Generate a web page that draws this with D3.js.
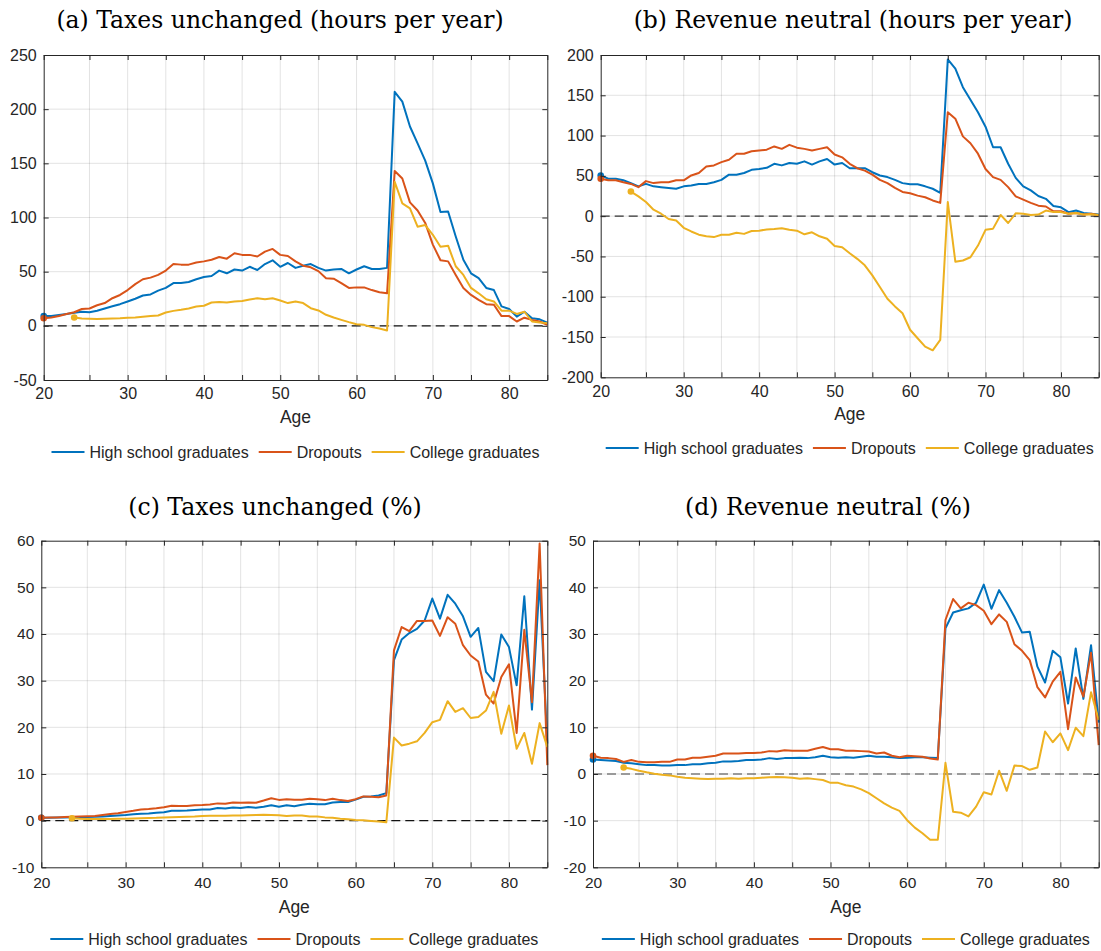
<!DOCTYPE html>
<html>
<head>
<meta charset="utf-8">
<script src="https://cdn.jsdelivr.net/npm/d3@7"></script>
<style>
  body { margin: 0; background: #fff; }
  svg text { font-family: "Liberation Sans", Arial, sans-serif; fill: #262626; }
  .title { font-family: "DejaVu Serif", "Liberation Serif", serif; fill: #000; }
</style>
</head>
<body>
<svg id="chart" width="1101" height="951"></svg>
<script>
// ages 19..85 for high school / dropouts, college series start at 23
const AGES = d3.range(19, 86)
const COLLEGE_AGES = d3.range(23, 86)
const X_TICKS = [19, 25, 30, 35, 40, 45, 50, 55, 60, 65, 70, 75, 80, 85]
const X_TICK_LABELS = ["20", "", "30", "", "40", "", "50", "", "60", "", "70", "", "80", ""]
const SERIES_NAMES = ["High school graduates", "Dropouts", "College graduates"]
const COLORS = ["#0072BD", "#D95319", "#EDB120"]

// (a) taxes unchanged, hours per year
const hsHoursTax = [9, 9, 10, 11, 12, 13, 12.5, 14, 16, 18, 20, 22.5, 25, 28, 29, 32.5, 35, 39.5, 39.5, 40.5,
  43, 45, 46, 51, 48.5, 52, 51, 54.5, 51.5, 57, 60.5, 54.5, 58, 53.5, 55.5, 57, 53.5, 51, 52, 52.5,
  48.5, 52, 55, 52.5, 52.5, 53.5, 216, 207, 184, 168.5, 152.5, 131.5, 105, 105.5, 82.5, 61, 48.5, 44, 35, 33,
  18, 15.5, 8.5, 13, 7, 6, 3]
const dropHoursTax = [7, 7.7, 9, 11, 12.5, 15.5, 16, 19, 21, 25.5, 28.5, 33, 38.5, 43, 44.5, 47, 51, 57, 56.5, 56.5,
  58.5, 59.5, 61, 63.5, 62, 67, 65.5, 65.5, 64, 68.5, 71, 65.5, 64.5, 59.5, 55.5, 54, 50.5, 44, 43.5, 39.5,
  35, 35.5, 35.5, 33, 31, 30, 143, 136, 114, 106.5, 95, 75, 60.5, 59.5, 47, 35, 28.5, 24, 20, 19.5,
  9, 9, 4, 7.5, 5.5, 4, 1]
const colHoursTax = [7.7, 6.8, 6.5, 6.2, 6.5, 6.8, 7, 7.4, 7.7, 8.3, 9, 9.5, 12.3, 13.8, 14.8, 16,
  17.8, 18.5, 21.5, 22, 21.5, 22.5, 23, 24.3, 25.5, 24.6, 25.5, 23.4, 21, 22.5, 21, 16.3, 14.2, 10.2, 7.7, 5.5,
  3.4, 1.5, 0.9, -1.2, -2.5, -4.3, 133, 113, 108.5, 91.5, 93, 84, 73, 74, 55, 47, 35, 30, 24.5, 22.5,
  14, 14, 11, 13, 4, 3, 2.5]

// (b) revenue neutral, hours per year
const hsHoursRev = [50.5, 46.5, 46.5, 44.5, 41, 37, 40, 37, 36, 35, 34, 37, 38, 40, 40, 42, 45, 51.5, 51.5, 53.5,
  57.5, 58.5, 60, 65, 63, 66, 65, 68, 64, 68, 71, 64, 66, 59.5, 59.5, 59.5, 54.5, 50.5, 48.5, 45,
  41, 39.5, 39.5, 37, 34, 29, 194.5, 183, 160, 144.5, 129, 111, 85.5, 85.5, 65, 47.5, 37, 32, 25, 21.5,
  12.5, 11, 5, 7, 4, 3, 2]
const dropHoursRev = [46.5, 44.5, 44.5, 42, 40, 36, 43.5, 41, 42, 42, 44.5, 44.5, 50.5, 53.5, 61.5, 63, 67, 70, 77.5, 77.5,
  80.5, 81.5, 82.5, 86.5, 83.5, 88.5, 85, 83.5, 81.5, 83.5, 85.5, 76.5, 73, 65, 59.5, 56.5, 51.5, 45, 41, 35,
  30, 28.5, 25.5, 23.5, 19.5, 16.5, 129, 121, 99, 90.5, 77.5, 58.5, 48.5, 45, 36, 24.5, 20.5, 16.5, 13, 12,
  6, 6, 3, 4, 2, 3, 1]
const colHoursRev = [30.5, 24.5, 17.5, 8, 3, -3.5, -5.5, -14.5, -19, -23, -25, -26, -23, -23, -20.5, -22,
  -18.5, -18, -16.5, -16, -15, -17, -18, -22.5, -20, -25, -28, -37, -38.5, -46, -53, -61, -73.5, -88, -102.5, -112,
  -120.5, -141, -151.5, -162, -166.5, -153.5, 17.5, -56.5, -55, -51, -36.5, -17, -15.5, 1.5, -8.5, 3.5, 3, 1.5, 2, 7,
  5, 5, 3, 4, 2, 2.5, 1.5]

// (c) taxes unchanged, percent
const hsPctTax = [0.6, 0.6, 0.65, 0.7, 0.75, 0.8, 0.8, 0.85, 0.9, 1, 1.1, 1.2, 1.35, 1.5, 1.55, 1.7, 1.8, 2.1, 2.1, 2.15,
  2.3, 2.4, 2.4, 2.7, 2.6, 2.8, 2.7, 2.9, 2.75, 3, 3.3, 3, 3.3, 3.1, 3.4, 3.6, 3.5, 3.5, 3.9, 4,
  4, 4.5, 5.1, 5.2, 5.4, 5.9, 34.4, 38.8, 40.2, 41.1, 42.9, 47.6, 43.3, 48.4, 46.5, 43.8, 39.4, 41.3, 31.9, 29.9,
  39.9, 37.2, 29, 48.1, 23.8, 51.5, 16.5]
const dropPctTax = [0.6, 0.65, 0.7, 0.8, 0.85, 0.9, 0.95, 1, 1.2, 1.4, 1.6, 1.85, 2.1, 2.4, 2.5, 2.65, 2.85, 3.2, 3.15, 3.15,
  3.3, 3.35, 3.45, 3.7, 3.6, 3.9, 3.85, 3.9, 3.85, 4.3, 4.8, 4.45, 4.6, 4.5, 4.5, 4.7, 4.6, 4.4, 4.7, 4.4,
  4.2, 4.6, 5.2, 5.1, 5, 5.4, 36.5, 41.5, 40.6, 42.8, 42.8, 42.9, 39.6, 43.6, 42.2, 37.6, 35.4, 34.1, 27, 25.1,
  30.8, 33.5, 18.8, 40.9, 25.4, 59.4, 11.9]
const colPctTax = [0.5, 0.4, 0.35, 0.35, 0.35, 0.35, 0.38, 0.4, 0.45, 0.5, 0.55, 0.6, 0.7, 0.75, 0.8, 0.85,
  0.9, 1, 1.05, 1.05, 1.05, 1.1, 1.1, 1.15, 1.2, 1.25, 1.2, 1.15, 1, 1.1, 1.1, 0.9, 0.9, 0.7, 0.6, 0.4,
  0.3, 0.15, 0.07, -0.07, -0.2, -0.36, 17.8, 16.1, 16.5, 17, 18.8, 21.1, 21.6, 25.6, 23.3, 24.1, 22, 22.2, 23.6, 27.6,
  18.6, 24.7, 15.4, 18.8, 12.2, 20.9, 15.8]

// (d) revenue neutral, percent
const hsPctRev = [3.1, 3, 2.9, 2.8, 2.4, 2.3, 2.1, 1.9, 1.9, 1.8, 1.8, 1.9, 1.9, 2.1, 2.1, 2.3, 2.4, 2.7, 2.7, 2.8,
  3, 3, 3.1, 3.4, 3.2, 3.4, 3.4, 3.5, 3.4, 3.6, 3.9, 3.6, 3.5, 3.6, 3.5, 3.7, 3.9, 3.7, 3.7, 3.6,
  3.4, 3.5, 3.6, 3.6, 3.5, 3.4, 31.2, 34.6, 35.1, 35.5, 36.7, 40.6, 35.4, 39.4, 36.7, 33.7, 30.3, 30.5, 23, 19.6,
  26.4, 25, 15.1, 26.9, 16.1, 27.6, 11]
const dropPctRev = [3.9, 3.5, 3.4, 3.2, 2.6, 3, 2.6, 2.5, 2.5, 2.6, 2.6, 3.1, 3.1, 3.5, 3.5, 3.7, 3.9, 4.4, 4.4, 4.4,
  4.5, 4.5, 4.6, 4.9, 4.8, 5.1, 5, 5, 5, 5.4, 5.8, 5.3, 5.3, 5, 5, 4.9, 4.8, 4.4, 4.6, 3.9,
  3.6, 3.9, 3.8, 3.7, 3.3, 3.1, 33, 37.5, 35.5, 36.7, 36.2, 35, 32.1, 34.2, 32.6, 27.8, 26.4, 24.4, 18.6, 16.4,
  19.8, 21.9, 9.6, 20.7, 16.6, 26, 6.2]
const colPctRev = [1.4, 1.1, 0.7, 0.36, 0.07, -0.14, -0.3, -0.6, -0.8, -0.9, -1, -1.1, -1, -1, -0.9, -1,
  -0.9, -0.9, -0.8, -0.7, -0.65, -0.7, -0.8, -1, -0.9, -1.1, -1.3, -1.9, -1.9, -2.4, -2.7, -3.3, -4.1, -5.2, -6.3, -7.2,
  -7.9, -9.9, -11.5, -12.7, -14.1, -14.1, 2.4, -8.1, -8.3, -9.1, -7, -3.9, -4.4, 0.7, -3.6, 1.8, 1.7, 0.9, 1.4, 9.1,
  6.8, 8.7, 5.1, 9.9, 8.1, 17.5, 11.6]

const PANELS = [
  { title: "(a) Taxes unchanged (hours per year)", titleX: 280, titleY: 28,
    l: 43.7, r: 547.3, t: 55, b: 380, yDomain: [-50, 250], yTicks: d3.range(-50, 251, 50),
    series: [hsHoursTax, dropHoursTax, colHoursTax],
    tickFs: 16, tickPad: 7.6, ageY: 423, ageFs: 17.5, legendY: 452, legendFs: 16, zero: "#111" },
  { title: "(b) Revenue neutral (hours per year)", titleX: 853, titleY: 28,
    l: 600.7, r: 1098.7, t: 55, b: 377.3, yDomain: [-200, 200], yTicks: d3.range(-200, 201, 50),
    series: [hsHoursRev, dropHoursRev, colHoursRev],
    tickFs: 16, tickPad: 8.6, ageY: 420, ageFs: 17.5, legendY: 448, legendFs: 16, zero: "#333" },
  { title: "(c) Taxes unchanged (%)", titleX: 275, titleY: 515,
    l: 41.3, r: 547.3, t: 540.7, b: 867.3, yDomain: [-10, 60], yTicks: d3.range(-10, 61, 10),
    series: [hsPctTax, dropPctTax, colPctTax],
    tickFs: 15.5, tickPad: 10, ageY: 913, ageFs: 17.5, legendY: 939, legendFs: 16, zero: "#111" },
  { title: "(d) Revenue neutral (%)", titleX: 828, titleY: 515,
    l: 593, r: 1098.7, t: 540.7, b: 867.3, yDomain: [-20, 50], yTicks: d3.range(-20, 51, 10),
    series: [hsPctRev, dropPctRev, colPctRev],
    tickFs: 15.5, tickPad: 10, ageY: 913, ageFs: 17.5, legendY: 939, legendFs: 16, zero: "#444" }
]

const svg = d3.select("#chart")

function drawPanel(p) {
  const g = svg.append("g")

  const x = d3.scaleLinear().domain([19, 85]).range([p.l, p.r])
  const y = d3.scaleLinear().domain(p.yDomain).range([p.b, p.t])

  g.append("text")
    .attr("class", "title")
    .attr("x", p.titleX)
    .attr("y", p.titleY)
    .attr("text-anchor", "middle")
    .style("font-size", "23.5px")
    .text(p.title)

  // grid
  g.append("g").selectAll("line")
    .data(X_TICKS.slice(1, -1))
    .join("line")
      .attr("x1", d => x(d)).attr("x2", d => x(d))
      .attr("y1", p.t).attr("y2", p.b)
      .attr("stroke", "#262626").attr("stroke-opacity", 0.13)
  g.append("g").selectAll("line")
    .data(p.yTicks.slice(1, -1))
    .join("line")
      .attr("x1", p.l).attr("x2", p.r)
      .attr("y1", d => y(d)).attr("y2", d => y(d))
      .attr("stroke", "#262626").attr("stroke-opacity", 0.13)

  // zero reference
  g.append("line")
    .attr("x1", p.l).attr("x2", p.r)
    .attr("y1", y(0)).attr("y2", y(0))
    .attr("stroke", p.zero)
    .attr("stroke-width", 1.1)
    .attr("stroke-dasharray", "9,5")

  const line = d3.line()
    .x(d => x(d[0]))
    .y(d => y(d[1]))

  p.series.forEach((vals, i) => {
    const ages = i === 2 ? COLLEGE_AGES : AGES
    const pts = vals.map((v, k) => [ages[k], v])
    g.append("path")
      .datum(pts)
      .attr("fill", "none")
      .attr("stroke", COLORS[i])
      .attr("stroke-width", 2)
      .attr("stroke-linejoin", "round")
      .attr("d", line)
    g.append("circle")
      .attr("cx", x(pts[0][0]))
      .attr("cy", y(pts[0][1]))
      .attr("r", 3.3)
      .attr("fill", COLORS[i])
  })

  // axes, ticks inside, box all round
  const bottom = g.append("g")
    .attr("transform", `translate(0,${p.b})`)
    .call(d3.axisBottom(x).tickValues(X_TICKS).tickSize(-5).tickSizeOuter(0)
      .tickPadding(p.tickPad).tickFormat((d, i) => X_TICK_LABELS[i]))
  const top = g.append("g")
    .attr("transform", `translate(0,${p.t})`)
    .call(d3.axisTop(x).tickValues(X_TICKS).tickSize(-5).tickSizeOuter(0).tickFormat(""))
  const left = g.append("g")
    .attr("transform", `translate(${p.l},0)`)
    .call(d3.axisLeft(y).tickValues(p.yTicks).tickSize(-5).tickSizeOuter(0).tickPadding(7)
      .tickFormat(d => String(d)))
  const right = g.append("g")
    .attr("transform", `translate(${p.r},0)`)
    .call(d3.axisRight(y).tickValues(p.yTicks).tickSize(-5).tickSizeOuter(0).tickFormat(""))

  ;[bottom, top, left, right].forEach(a => {
    a.selectAll("path, line").attr("stroke", "#262626")
    a.selectAll("text").attr("fill", "#262626")
      .style("font-size", p.tickFs + "px")
      .style("font-family", '"Liberation Sans", Arial, sans-serif')
  })

  g.append("text")
    .attr("x", (p.l + p.r) / 2)
    .attr("y", p.ageY)
    .attr("text-anchor", "middle")
    .style("font-size", p.ageFs + "px")
    .text("Age")

  // legend under the axes, centred on them
  const leg = g.append("g")
  const items = SERIES_NAMES.map((name, i) => {
    const t = leg.append("text")
      .attr("y", p.legendY)
      .attr("dy", "0.35em")
      .style("font-size", p.legendFs + "px")
      .text(name)
    return { t, w: t.node().getComputedTextLength(), i }
  })
  const total = d3.sum(items, d => 33 + 5 + d.w) + 10 * (items.length - 1)
  let cx = (p.l + p.r) / 2 - total / 2
  items.forEach(d => {
    leg.append("line")
      .attr("x1", cx).attr("x2", cx + 33)
      .attr("y1", p.legendY).attr("y2", p.legendY)
      .attr("stroke", COLORS[d.i]).attr("stroke-width", 2)
    d.t.attr("x", cx + 38)
    cx += 38 + d.w + 10
  })
}

PANELS.forEach(drawPanel)
</script>
</body>
</html>
